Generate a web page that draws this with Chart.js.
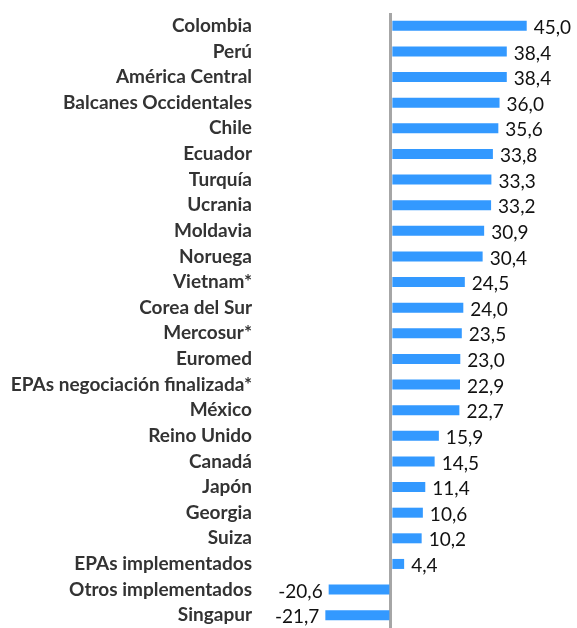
<!DOCTYPE html>
<html>
<head>
<meta charset="utf-8">
<script src="https://cdn.jsdelivr.net/npm/chart.js@4"></script>
<style>
  html, body { margin: 0; padding: 0; background: #fff; }
  canvas { display: block; }
</style>
</head>
<body>
<canvas id="tariffChart" width="577" height="628"></canvas>
<script>
// Categories and values
const categories = [
    'Colombia', 'Perú', 'América Central', 'Balcanes Occidentales', 'Chile',
    'Ecuador', 'Turquía', 'Ucrania', 'Moldavia', 'Noruega', 'Vietnam*',
    'Corea del Sur', 'Mercosur*', 'Euromed', 'EPAs negociación finalizada*',
    'México', 'Reino Unido', 'Canadá', 'Japón', 'Georgia', 'Suiza',
    'EPAs implementados', 'Otros implementados', 'Singapur'
];
const values = [
    45.0, 38.4, 38.4, 36.0, 35.6,
    33.8, 33.3, 33.2, 30.9, 30.4, 24.5,
    24.0, 23.5, 23.0, 22.9,
    22.7, 15.9, 14.5, 11.4, 10.6, 10.2,
    4.4, -20.6, -21.7
];
const xMin = -45;
const xMax = 60;

// Draw value labels next to each bar
const valueLabels = {
    id: 'valueLabels',
    afterDatasetsDraw(chart) {
        const ctx = chart.ctx;
        const meta = chart.getDatasetMeta(0);
        ctx.save();
        ctx.font = '19px Lato';
        ctx.fillStyle = '#111';
        ctx.textBaseline = 'middle';
        meta.data.forEach(function(bar, i) {
            const v = values[i];
            const txt = v.toFixed(1).replace('.', ',');
            if (v >= 0) {
                ctx.textAlign = 'left';
                ctx.fillText(txt, bar.x + 7, bar.y + 2);
            } else {
                ctx.textAlign = 'right';
                ctx.fillText(txt, bar.x - 6, bar.y + 2);
            }
        });
        ctx.restore();
    }
};

const ctx = document.getElementById('tariffChart').getContext('2d');
new Chart(ctx, {
    type: 'bar',
    data: {
        labels: categories,
        datasets: [{
            data: values,
            backgroundColor: '#3399ff',
            barPercentage: 0.5,
            categoryPercentage: 0.78
        }]
    },
    options: {
        indexAxis: 'y',
        responsive: false,
        animation: false,
        layout: { padding: { top: 13, right: 5, bottom: 0, left: 0 } },
        plugins: {
            legend: { display: false },
            tooltip: { enabled: false }
        },
        scales: {
            x: {
                min: xMin,
                max: xMax,
                afterFit: function(scale) { scale.height = 0; },
                ticks: { display: false, stepSize: 15 },
                border: { display: false },
                grid: {
                    drawTicks: false,
                    lineWidth: 3,
                    color: function(c) {
                        return c.tick && c.tick.value === 0 ? '#a6a6a6' : 'rgba(0,0,0,0)';
                    }
                }
            },
            y: {
                afterFit: function(scale) {
                    scale.width = 255;
                    scale.paddingTop = 0;
                    scale.paddingBottom = 0;
                },
                border: { display: false },
                grid: { display: false, drawTicks: false },
                ticks: {
                    autoSkip: false,
                    padding: 3,
                    color: '#333',
                    font: { family: 'Lato', size: 19, weight: 'bold' }
                }
            }
        }
    },
    plugins: [valueLabels]
});
</script>
</body>
</html>
